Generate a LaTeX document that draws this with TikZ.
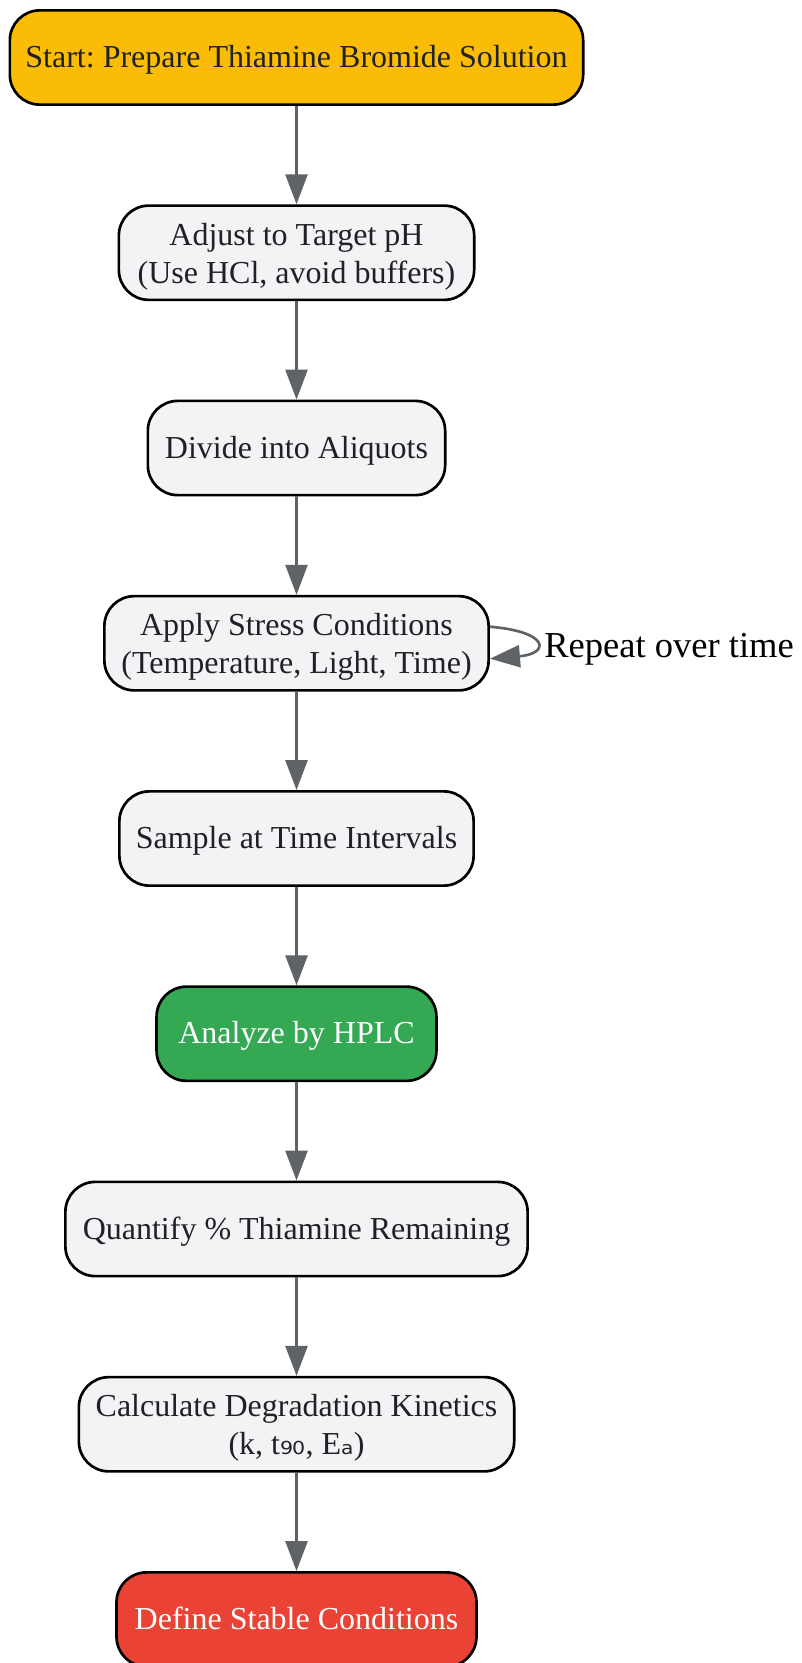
\documentclass[tikz,border=0pt]{standalone}
\usepackage{fontspec}
\setmainfont{Liberation Serif}
\newfontfamily\subfont{DejaVu Sans}
\usetikzlibrary{arrows.meta}
\definecolor{startc}{HTML}{FBBC05}
\definecolor{greenc}{HTML}{34A853}
\definecolor{redc}{HTML}{EA4335}
\definecolor{grayc}{HTML}{F1F3F4}
\definecolor{txtc}{HTML}{202124}
\definecolor{arrc}{HTML}{5F6368}
\frenchspacing
\begin{document}
\begin{tikzpicture}[x=0.75pt,y=-0.75pt,
  box/.style={draw=black, line width=2pt, rounded corners=22.5pt, minimum height=70.7pt,
    align=center, font=\fontsize{24}{28.8}\selectfont, text=txtc, fill=grayc, inner sep=0pt,
    text height=15pt, text depth=0pt},
  twoline/.style={text height=46pt, text depth=0pt},
  flow/.style={draw=arrc, line width=2pt, -{Triangle[length=22.5pt,width=16.5pt]}},
  lbl/.style={font=\fontsize{27.4}{33}\selectfont, text=black, inner sep=0pt}
]
\useasboundingbox (0,0) rectangle (801,1663);
\node[box, fill=startc, minimum width=430pt] (start) at (296.5,57.5) {Start: Prepare Thiamine Bromide Solution};
\node[box, twoline, minimum width=266.5pt] (adjust) at (296.5,252.75) {Adjust to Target pH\\(Use HCl, avoid buffers)};
\node[box, minimum width=223pt] (divide) at (296.5,448) {Divide into Aliquots};
\node[box, twoline, minimum width=288.2pt] (apply) at (296.5,643.25) {Apply Stress Conditions\\(Temperature, Light, Time)};
\node[box, minimum width=265.7pt] (sample) at (296.5,838.5) {Sample at Time Intervals};
\node[box, fill=greenc, text=white, minimum width=209.9pt] (analyze) at (296.5,1033.75) {Analyze by HPLC};
\node[box, minimum width=346.7pt] (quant) at (296.5,1229) {Quantify \% Thiamine Remaining};
\node[box, twoline, minimum width=326.5pt] (calc) at (296.5,1424.25) {Calculate Degradation Kinetics\\(k, t{\subfont ₉₀}, E{\subfont ₐ})};
\node[box, fill=redc, text=white, minimum width=270pt] (define) at (296.5,1619.5) {Define Stable Conditions};

\draw[flow] (start) -- (adjust);
\draw[flow] (adjust) -- (divide);
\draw[flow] (divide) -- (apply);
\draw[flow] (apply) -- (sample);
\draw[flow] (sample) -- (analyze);
\draw[flow] (analyze) -- (quant);
\draw[flow] (quant) -- (calc);
\draw[flow] (calc) -- (define);

\draw[flow] ([yshift=12.4pt]apply.east) .. controls +(60,5) and +(60,-5) .. ([yshift=-11.6pt]apply.east);
\node[lbl, anchor=base west] (rep) at (544,657) {Repeat over time};
\end{tikzpicture}
\end{document}
